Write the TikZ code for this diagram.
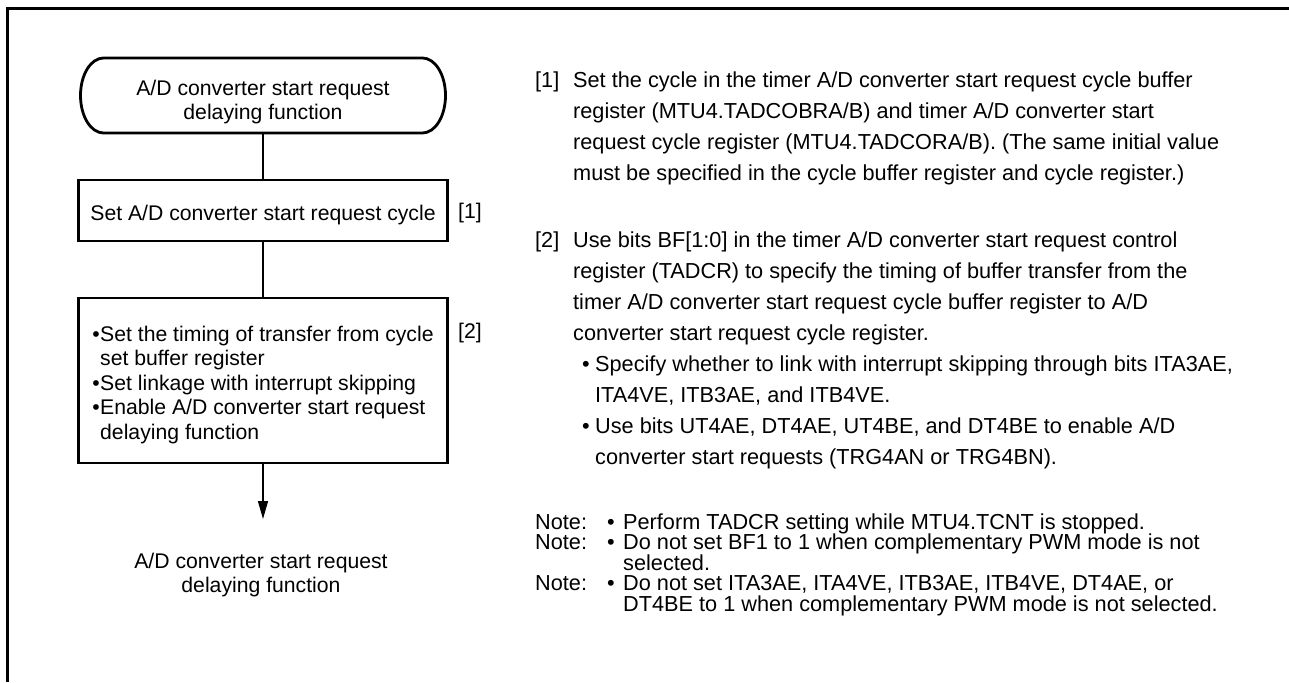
\documentclass[tikz,border=0pt]{standalone}
\usepackage{fontspec}
\setmainfont{Liberation Sans}
\usetikzlibrary{arrows.meta}
\newcommand\lfont{\fontsize{21.2}{24.5}\selectfont}
\newcommand\rfont{\fontsize{21.7}{31}\selectfont}
\newcommand\nfont{\fontsize{21.7}{20.5}\selectfont\lineskiplimit=-100pt}
\begin{document}
\begin{tikzpicture}[x=1pt,y=-1pt,
  frame/.style={line width=3pt},
  outline/.style={line width=2.8pt},
  boxst/.style={draw,line width=2.8pt,minimum width=369pt,inner sep=0pt,outer sep=0pt,font=\lfont},
  termst/.style={draw=none,minimum width=365pt,minimum height=75pt,inner sep=0pt,outer sep=0pt,align=center,font=\lfont},
  conn/.style={line width=1.4pt},
  tag/.style={font=\lfont,inner sep=0pt,anchor=west},
  para/.style={align=left,inner sep=0pt,anchor=base west}]
\useasboundingbox (0,0) rectangle (1289,682);
% frame
\draw[frame] (1289,9) -- (7,9) -- (7,682);
% terminal
\node[termst,text height=53pt] (start) at (263,95.5) {A/D converter start request\\delaying function};
\draw[outline] ([xshift=23pt]start.north west) -- ([xshift=-23pt]start.north east)
  arc[start angle=90,end angle=-90,x radius=23pt,y radius=37.5pt]
  -- ([xshift=23pt]start.south west)
  arc[start angle=270,end angle=90,x radius=23pt,y radius=37.5pt] -- cycle;
% boxes
\node[boxst,minimum height=61pt,text height=25pt] (b1) at (263,210.5) {Set A/D converter start request cycle};
\node[boxst,minimum height=165pt,align=left,text height=121.5pt] (b2) at (263,380.5)
  {\makebox[7.8pt][l]{•}Set the timing of transfer from cycle\\
   \hspace*{7.8pt}set buffer register\\
   \makebox[7.8pt][l]{•}Set linkage with interrupt skipping\\
   \makebox[7.8pt][l]{•}Enable A/D converter start request\\
   \hspace*{7.8pt}delaying function};
\coordinate (tip) at (263,519);
\node[font=\lfont,align=center,inner sep=0pt] (endt) at (261,575) {A/D converter start request\\delaying function};
% connectors
\draw[conn] (start.south) -- (b1.north);
\draw[conn] (b1.south) -- (b2.north);
\draw[conn,-{Triangle[length=18pt,width=10pt]}] (b2.south) -- (tip);
% step tags
\node[tag] (t1) at (458,213) {[1]};
\node[tag] (t2) at (458,333) {[2]};
% right-hand text (anchor = baseline of the last line)
\node[para,font=\rfont] (p1) at (535,180)
  {\makebox[38pt][l]{[1]}Set the cycle in the timer A/D converter start request cycle buffer\\
   \hspace*{38pt}register (MTU4.TADCOBRA/B) and timer A/D converter start\\
   \hspace*{38pt}request cycle register (MTU4.TADCORA/B). (The same initial value\\
   \hspace*{38pt}must be specified in the cycle buffer register and cycle register.)};
\node[para,font=\rfont] (p2) at (535,464)
  {\makebox[38pt][l]{[2]}Use bits BF[1:0] in the timer A/D converter start request control\\
   \hspace*{38pt}register (TADCR) to specify the timing of buffer transfer from the\\
   \hspace*{38pt}timer A/D converter start request cycle buffer register to A/D\\
   \hspace*{38pt}converter start request cycle register.\\
   \hspace*{47pt}\makebox[13pt][l]{•}Specify whether to link with interrupt skipping through bits ITA3AE,\\
   \hspace*{60pt}ITA4VE, ITB3AE, and ITB4VE.\\
   \hspace*{47pt}\makebox[13pt][l]{•}Use bits UT4AE, DT4AE, UT4BE, and DT4BE to enable A/D\\
   \hspace*{60pt}converter start requests (TRG4AN or TRG4BN).};
\node[para,font=\nfont] (notes) at (535,611)
  {\makebox[72pt][l]{Note:}\makebox[16pt][l]{•}Perform TADCR setting while MTU4.TCNT is stopped.\\
   \makebox[72pt][l]{Note:}\makebox[16pt][l]{•}Do not set BF1 to 1 when complementary PWM mode is not\\
   \hspace*{88pt}selected.\\
   \makebox[72pt][l]{Note:}\makebox[16pt][l]{•}Do not set ITA3AE, ITA4VE, ITB3AE, ITB4VE, DT4AE, or\\
   \hspace*{88pt}DT4BE to 1 when complementary PWM mode is not selected.};
\end{tikzpicture}
\end{document}
